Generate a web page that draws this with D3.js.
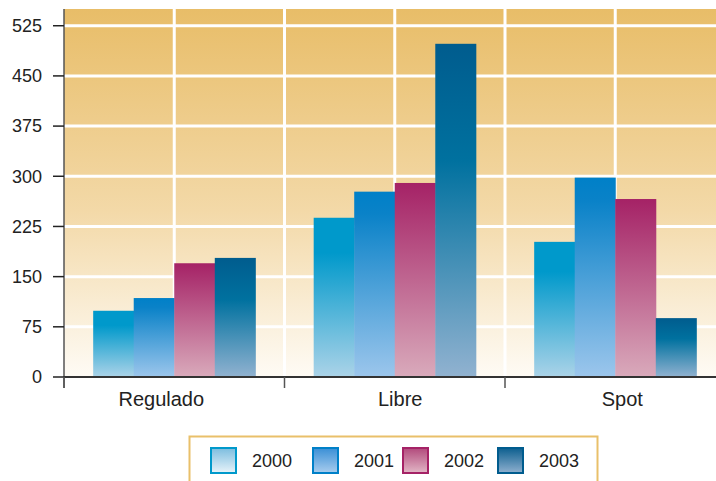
<!DOCTYPE html>
<html>
<head>
<meta charset="utf-8" />
<script src="https://cdn.jsdelivr.net/npm/d3@7/dist/d3.min.js"></script>
<style>
  body { margin: 0; background: #fff; }
  svg { display: block; font-family: "Liberation Sans", Arial, sans-serif; }
  .tick-label { fill: #222; font-size: 18px; }
  .cat-label { fill: #222; font-size: 20px; }
  .legend-label { fill: #222; font-size: 18px; }
</style>
</head>
<body>
<div id="chart"></div>
<script>
var categories = ["Regulado", "Libre", "Spot"];
var years = ["2000", "2001", "2002", "2003"];
var v2000 = [99, 238, 202];
var v2001 = [118, 277, 298];
var v2002 = [170, 290, 266];
var v2003 = [178, 498, 88];
var yTicks = [0, 75, 150, 225, 300, 375, 450, 525];

var series = [v2000, v2001, v2002, v2003];

var width = 716, height = 481;
var mLeft = 64, mRight = 725.5, mTop = 9, mBottom = 377;
// the labels under the axis are not quite centred in the original
var labelShift = [-13, 5.5, 7];

var svg = d3.select("#chart").append("svg")
    .attr("width", width)
    .attr("height", height);

var defs = svg.append("defs");

var bg = defs.append("linearGradient").attr("id", "bg")
    .attr("x1", 0).attr("y1", 0).attr("x2", 0).attr("y2", 1);
bg.append("stop").attr("offset", 0).attr("stop-color", "#e8bd68");
bg.append("stop").attr("offset", 0.55).attr("stop-color", "#f3d9a8");
bg.append("stop").attr("offset", 1).attr("stop-color", "#fefbf5");

var barStops = [
    [[0, "#0099cb"], [0.22, "#0099cb"], [1, "#abd3e8"]],
    [[0, "#0080c8"], [0.12, "#0a82c8"], [1, "#9cc6ec"]],
    [[0, "#a52266"], [1, "#d9aabb"]],
    [[0, "#005c8e"], [0.35, "#00719f"], [1, "#91b2d0"]]
];
var legStops = [
    [[0, "#7cbddf"], [1, "#e8f3f9"]],
    [[0, "#3a8fd6"], [1, "#a9cdee"]],
    [[0, "#b24a7c"], [1, "#e2b7c6"]],
    [[0, "#0d5f8f"], [1, "#8fb0cf"]]
];
var borderCol = ["#0099cb", "#0080c8", "#a52266", "#005c8e"];

function addGrad(id, st) {
    var g = defs.append("linearGradient").attr("id", id)
        .attr("x1", 0).attr("y1", 0).attr("x2", 0).attr("y2", 1);
    st.forEach(function (s) {
        g.append("stop").attr("offset", s[0]).attr("stop-color", s[1]);
    });
}
barStops.forEach(function (st, i) { addGrad("bar" + i, st); });
legStops.forEach(function (st, i) { addGrad("leg" + i, st); });

var x0 = d3.scaleBand().domain(categories).range([mLeft, mRight]).padding(0);
var x1 = d3.scaleBand().domain(years).range([0, x0.bandwidth()])
    .paddingInner(0).paddingOuter(0.72);
var y = d3.scaleLinear().domain([0, 550]).range([mBottom, mTop]);

// background
svg.append("rect")
    .attr("x", mLeft).attr("y", mTop)
    .attr("width", mRight - mLeft).attr("height", mBottom - mTop)
    .attr("fill", "url(#bg)");

// grid
svg.selectAll(".hgrid").data(yTicks.slice(1)).enter().append("line")
    .attr("x1", mLeft).attr("x2", mRight)
    .attr("y1", function (d) { return y(d); })
    .attr("y2", function (d) { return y(d); })
    .attr("stroke", "#fff").attr("stroke-width", 3);

var vlines = [];
categories.forEach(function (c, i) {
    vlines.push(x0(c) + x0.bandwidth() / 2);
    if (i > 0) vlines.push(x0(c));
});
svg.selectAll(".vgrid").data(vlines).enter().append("line")
    .attr("x1", function (d) { return d; })
    .attr("x2", function (d) { return d; })
    .attr("y1", mTop).attr("y2", mBottom)
    .attr("stroke", "#fff").attr("stroke-width", 3);

// bars
var groups = svg.selectAll(".grp").data(categories).enter().append("g")
    .attr("transform", function (c) { return "translate(" + x0(c) + ",0)"; });

groups.selectAll("rect")
    .data(function (c, ci) {
        return years.map(function (yr, si) {
            return { year: yr, si: si, value: series[si][ci] };
        });
    })
    .enter().append("rect")
    .attr("x", function (d) { return x1(d.year); })
    .attr("width", x1.bandwidth() + 0.5)
    .attr("y", function (d) { return y(d.value); })
    .attr("height", function (d) { return mBottom - y(d.value); })
    .attr("fill", function (d) { return "url(#bar" + d.si + ")"; });

// y axis
svg.append("line")
    .attr("x1", mLeft).attr("x2", mLeft)
    .attr("y1", mTop).attr("y2", mBottom + 11)
    .attr("stroke", "#555").attr("stroke-width", 1.5);
svg.selectAll(".ytick").data(yTicks).enter().append("line")
    .attr("x1", mLeft - 11).attr("x2", mLeft)
    .attr("y1", function (d) { return y(d); })
    .attr("y2", function (d) { return y(d); })
    .attr("stroke", "#222").attr("stroke-width", 1.5);
svg.selectAll(".ylab").data(yTicks).enter().append("text")
    .attr("class", "tick-label")
    .attr("x", mLeft - 22)
    .attr("y", function (d) { return y(d); })
    .attr("dy", "0.35em")
    .attr("text-anchor", "end")
    .text(function (d) { return d; });

// x axis
svg.append("line")
    .attr("x1", mLeft).attr("x2", mRight)
    .attr("y1", mBottom).attr("y2", mBottom)
    .attr("stroke", "#333").attr("stroke-width", 2);
svg.selectAll(".xtick").data(categories).enter().append("line")
    .attr("x1", function (c) { return x0(c); })
    .attr("x2", function (c) { return x0(c); })
    .attr("y1", mBottom).attr("y2", mBottom + 11)
    .attr("stroke", "#555").attr("stroke-width", 1.5);
svg.selectAll(".xlab").data(categories).enter().append("text")
    .attr("class", "cat-label")
    .attr("x", function (c, i) { return x0(c) + x0.bandwidth() / 2 + labelShift[i]; })
    .attr("y", mBottom + 29)
    .attr("text-anchor", "middle")
    .text(function (c) { return c; });

// legend
svg.append("rect")
    .attr("x", 189.5).attr("y", 436.5)
    .attr("width", 408).attr("height", 60)
    .attr("fill", "#fff")
    .attr("stroke", "#e9c06a").attr("stroke-width", 2);

var legX = [211, 313, 403, 498];
var leg = svg.selectAll(".leg").data(years).enter().append("g")
    .attr("transform", function (d, i) { return "translate(" + legX[i] + ",448)"; });
leg.append("rect")
    .attr("width", 25).attr("height", 25)
    .attr("fill", function (d, i) { return "url(#leg" + i + ")"; })
    .attr("stroke", function (d, i) { return borderCol[i]; })
    .attr("stroke-width", 2);
leg.append("text")
    .attr("class", "legend-label")
    .attr("x", 41).attr("y", 13)
    .attr("dy", "0.35em")
    .text(function (d) { return d; });
</script>
</body>
</html>
